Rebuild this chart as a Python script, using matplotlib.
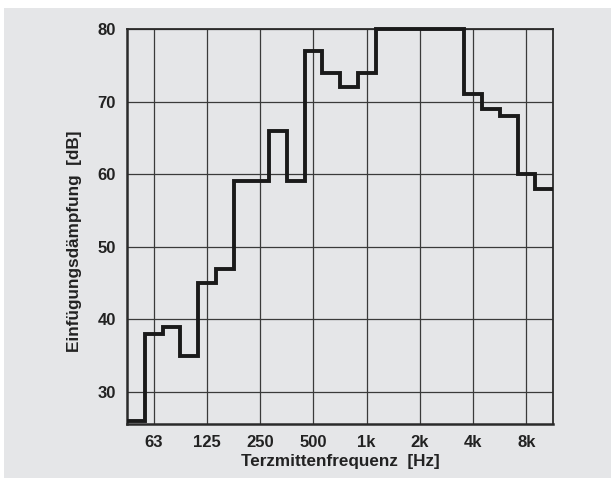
import matplotlib
matplotlib.use("Agg")
import matplotlib.pyplot as plt
import numpy as np
from matplotlib.patches import Rectangle

# Terzbänder (Mittenfrequenzen) und Einfügungsdämpfung in dB
baender = ['50', '63', '80', '100', '125', '160', '200', '250', '315', '400',
           '500', '630', '800', '1k', '1.25k', '1.6k', '2k', '2.5k', '3.15k',
           '4k', '5k', '6.3k', '8k', '10k']
daempfung = [26, 38, 39, 35, 45, 47, 59, 59, 66, 59,
             77, 74, 72, 74, 80, 80, 80, 80, 80,
             71, 69, 68, 60, 58]
oktav_labels = ['63', '125', '250', '500', '1k', '2k', '4k', '8k']
y_ticks = [30, 40, 50, 60, 70, 80]

plt.rcParams['font.family'] = ['Liberation Sans', 'DejaVu Sans']
textfarbe = '#222222'
grau = '#e5e6e8'

fig = plt.figure(figsize=(6.11, 4.78), dpi=100)
fig.patch.set_facecolor('white')
fig.patches.append(Rectangle((4 / 611, 0), 1, 1 - 8 / 478, transform=fig.transFigure,
                             facecolor=grau, edgecolor='none', zorder=-10))

ax = fig.add_axes([127 / 611, 1 - 424 / 478, (553 - 127) / 611, (424 - 29) / 478])
ax.set_facecolor(grau)

# x-Achse: Bandindex, 63 Hz liegt bei 0
idx = {b: i - 1 for i, b in enumerate(baender)}
kanten = np.arange(len(daempfung) + 1) - 1.5
ax.stairs(daempfung, kanten, baseline=None, color='#1a1a1a', linewidth=2.8,
          clip_on=False, zorder=3)

ax.set_xlim(kanten[0], kanten[-1])
ax.set_ylim(25.6, 80)
ax.set_xticks([idx[b] for b in oktav_labels])
ax.set_xticklabels(oktav_labels)
ax.set_yticks(y_ticks)
ax.grid(True, color='#3a3a3a', linewidth=0.9)
ax.set_axisbelow(True)
ax.tick_params(length=0, pad=8, labelsize=12, colors=textfarbe)
for lbl in ax.get_xticklabels() + ax.get_yticklabels():
    lbl.set_fontweight('bold')

for s in ['left', 'bottom']:
    ax.spines[s].set_linewidth(1.8)
for s in ['top', 'right']:
    ax.spines[s].set_linewidth(1.3)
for s in ax.spines.values():
    s.set_color('#2a2a2a')

ax.set_xlabel('Terzmittenfrequenz  [Hz]', fontsize=12.3, fontweight='bold',
              color=textfarbe, labelpad=3)
ax.set_ylabel('Einfügungsdämpfung  [dB]', fontsize=12.3, fontweight='bold',
              color=textfarbe)
ax.yaxis.set_label_coords(-0.105, 0.463)

fig.savefig('out.png', dpi=100, facecolor=fig.get_facecolor())
